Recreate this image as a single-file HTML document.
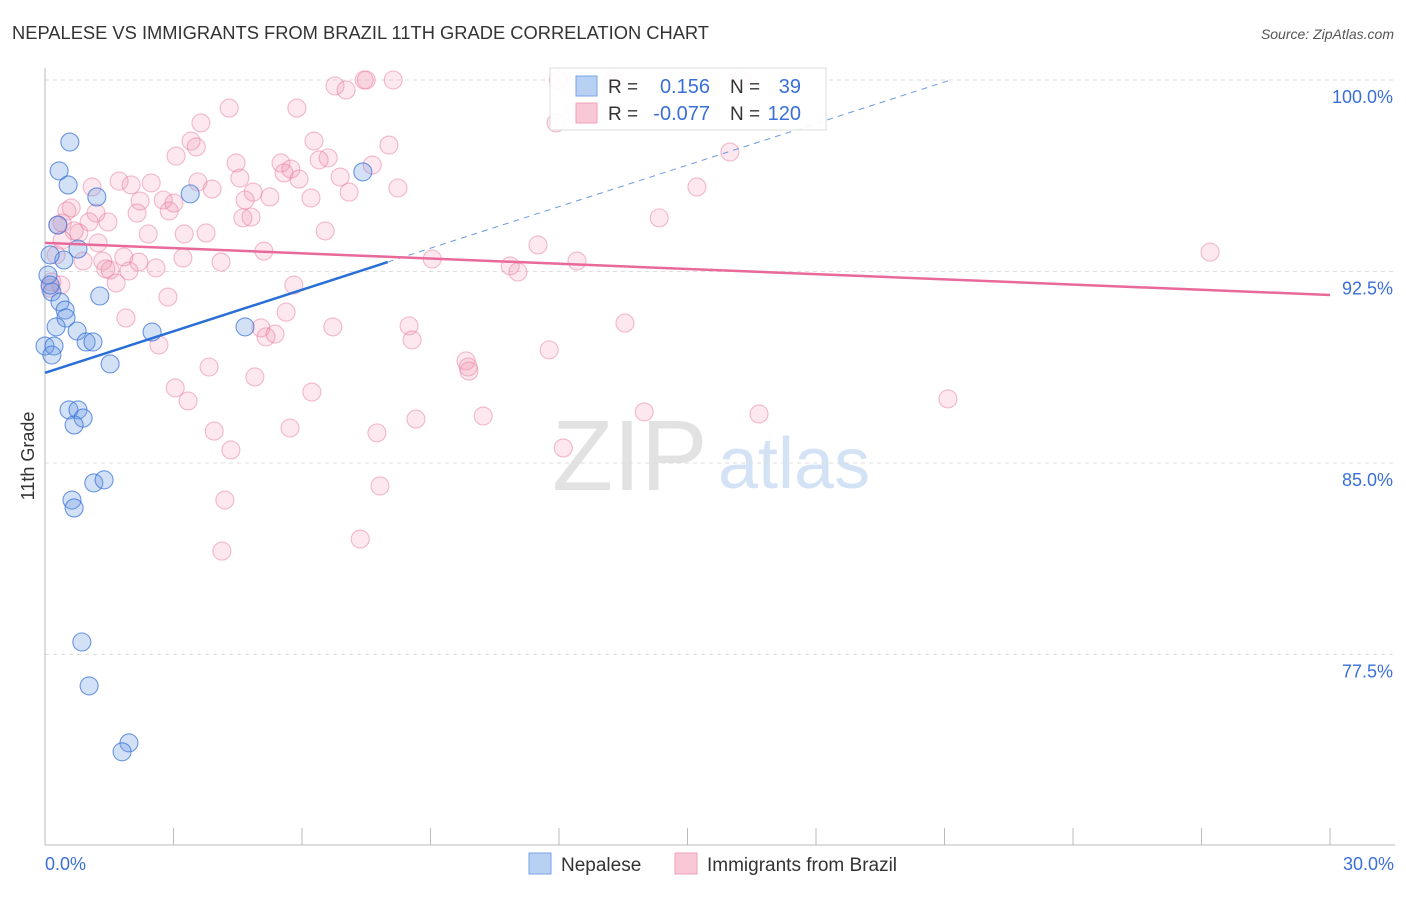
<!DOCTYPE html>
<html><head><meta charset="utf-8"><style>
body{margin:0;background:#fff;font-family:"Liberation Sans",sans-serif}
svg text{font-family:"Liberation Sans",sans-serif}
</style></head><body>
<svg id="c" width="1406" height="892">
<text x="12" y="39" font-size="18" fill="#333" textLength="697" lengthAdjust="spacingAndGlyphs">NEPALESE VS IMMIGRANTS FROM BRAZIL 11TH GRADE CORRELATION CHART</text>
<text x="1394" y="39" font-size="14" fill="#555" font-style="italic" text-anchor="end">Source: ZipAtlas.com</text>
<g>
<text x="552" y="490" font-size="100" fill="#e2e2e2" font-family="Liberation Serif,serif">ZIP</text>
<text x="718" y="488" font-size="72" fill="#d3e3f5">atlas</text>
</g>
<g id="grid"></g>
<g id="axes"></g>
<g id="pts"></g>
<g id="lines"></g>
<g>
<rect x="550" y="68" width="276" height="62" fill="#fff" fill-opacity="0.9" stroke="#ddd"/>
<rect x="576" y="76" width="21" height="20" fill="#b8d0f4" stroke="#7aa4e4"/>
<rect x="576" y="103" width="21" height="20" fill="#f9c8d6" stroke="#f0a0b8"/>
<text x="608" y="93" font-size="19" fill="#333">R =</text>
<text x="710" y="93" font-size="20" fill="#3a6fd8" text-anchor="end">0.156</text>
<text x="730" y="93" font-size="19" fill="#333">N =</text>
<text x="801" y="93" font-size="20" fill="#3a6fd8" text-anchor="end">39</text>
<text x="608" y="120" font-size="19" fill="#333">R =</text>
<text x="710" y="120" font-size="20" fill="#3a6fd8" text-anchor="end">-0.077</text>
<text x="730" y="120" font-size="19" fill="#333">N =</text>
<text x="801" y="120" font-size="20" fill="#3a6fd8" text-anchor="end">120</text>
</g>
<text x="34" y="456" font-size="18" fill="#333" transform="rotate(-90 34 456)" text-anchor="middle">11th Grade</text>
<text x="45" y="870" font-size="18" fill="#3a6fd8">0.0%</text>
<text x="1394" y="870" font-size="18" fill="#3a6fd8" text-anchor="end">30.0%</text>
<g><rect x="529" y="853" width="22" height="21" fill="#b8d0f4" stroke="#7aa4e4"/><text x="561" y="871" font-size="19" fill="#333">Nepalese</text></g>
<g><rect x="675" y="853" width="22" height="21" fill="#f9c8d6" stroke="#f0a0b8"/><text x="707" y="871" font-size="19" fill="#333">Immigrants from Brazil</text></g>
</svg>
<script>
const blueX=[0.58,0.33,0.54,1.21,3.39,7.42,0.30,0.44,0.77,0.12,0.07,0.16,0.35,0.47,0.49,0.26,0.75,1.28,0,0.21,0.16,0.96,1.12,1.52,2.50,4.67,0.56,0.77,0.89,0.68,1.14,1.38,0.63,0.68,0.86,1.03,1.96,1.80,0.12];
const blueY=[97.57,96.44,95.89,95.42,95.54,96.40,94.32,92.95,93.38,93.15,92.36,91.70,91.31,90.99,90.68,90.33,90.17,91.54,89.58,89.58,89.23,89.74,89.74,88.88,90.13,90.33,87.08,87.08,86.76,86.49,84.22,84.34,83.55,83.24,77.99,76.27,74.04,73.69,91.97];
const pinkX=[6.77,7.03,7.45,7.50,8.13,11.98,13.26,16.23,4.30,5.88,3.64,11.93,6.28,3.41,3.53,8.03,15.99,3.06,4.46,5.51,6.61,6.40,7.64,5.74,6.89,5.58,5.93,4.55,3.57,3.90,1.73,2.01,2.48,1.10,4.86,7.10,8.24,15.22,4.67,5.25,2.76,3.01,2.22,0.51,0.61,1.19,2.15,2.90,4.62,4.81,6.21,14.34,0.30,0.40,1.03,1.47,0.68,2.41,3.25,3.76,6.54,11.51,1.24,0.40,0.79,5.11,27.20,1.84,1.35,1.52,0.89,2.19,2.59,3.22,4.11,9.04,10.86,12.42,11.04,1.42,1.96,1.66,0.16,0.12,5.81,2.87,5.63,1.89,5.04,5.16,5.37,6.72,8.50,8.57,13.54,2.66,11.77,9.83,9.90,9.88,3.83,4.90,3.04,6.23,3.34,21.08,13.99,16.67,10.23,8.66,5.72,3.95,7.75,4.34,12.10,7.82,4.20,4.13,7.36,0.26,0.37];
const pinkY=[99.77,99.61,100,100,100,100,100,100,98.90,98.90,98.32,98.32,97.61,97.61,97.38,97.45,97.18,97.02,96.75,96.75,96.95,96.87,96.67,96.51,96.20,96.36,96.12,96.16,96.01,95.73,96.04,95.89,95.97,95.81,95.61,95.61,95.77,95.81,95.30,95.42,95.30,95.18,95.26,94.87,94.99,94.79,94.79,94.87,94.60,94.63,95.38,94.60,94.32,94.40,94.44,94.44,94.09,93.97,93.97,94.01,94.09,93.54,93.62,93.73,94.01,93.30,93.26,93.07,92.91,92.56,92.91,92.87,92.64,93.03,92.87,92.99,92.72,92.91,92.48,92.60,92.52,92.05,92.09,91.85,91.97,91.50,90.91,90.68,90.29,89.94,90.05,90.33,90.37,89.82,90.48,89.62,89.43,89.00,88.60,88.76,88.76,88.37,87.94,87.78,87.43,87.51,87.00,86.92,86.84,86.72,86.37,86.25,86.18,85.51,85.59,84.10,83.55,81.55,82.02,93.15,91.97];
const yTicks=[100,92.5,85,77.5];
const yTickLabels=["100.0%","92.5%","85.0%","77.5%"];
const blueTrend=[88.53,0.5425];
const pinkTrend=[93.62,-0.068];
const NS="http://www.w3.org/2000/svg";
const sx=v=>45+v/30*1285;
const sy=v=>80+(100-v)/7.5*191.5;
function mk(tag,attrs,parent){const e=document.createElementNS(NS,tag);for(const k in attrs)e.setAttribute(k,attrs[k]);parent.appendChild(e);return e;}
const grid=document.getElementById('grid'),axes=document.getElementById('axes'),pts=document.getElementById('pts'),lines=document.getElementById('lines');
yTicks.forEach((t,i)=>{
 const l=mk('line',{x1:45,x2:1393,y1:sy(t),y2:sy(t),stroke:'#ddd','stroke-dasharray':'4 4'},grid);
 
 
 const tx=mk('text',{x:1393,y:sy(t)+23,'font-size':18,fill:'#3a6fd8','text-anchor':'end'},grid);
 tx.textContent=yTickLabels[i];
 
 
});
mk('line',{x1:45,x2:45,y1:68,y2:845,stroke:'#bbb'},axes);
mk('line',{x1:45,x2:1395,y1:845,y2:845,stroke:'#bbb'},axes);
for(let i=0;i<=10;i++){const t=mk('line',{x1:sx(i*3),x2:sx(i*3),y1:828,y2:845,stroke:'#bbb'},axes);
 
 }
pinkX.forEach((x,i)=>{const c=mk('circle',{cx:sx(x),cy:sy(pinkY[i]),r:9,fill:'rgba(240,140,170,0.2)',stroke:'rgba(232,120,160,0.5)','stroke-width':1.1},pts);
 
 });
blueX.forEach((x,i)=>{const c=mk('circle',{cx:sx(x),cy:sy(blueY[i]),r:9,fill:'rgba(110,155,230,0.3)',stroke:'rgba(50,110,215,0.7)','stroke-width':1.1},pts);
 
 });
const bf=x=>blueTrend[0]+blueTrend[1]*x;
const bEnd=(100-blueTrend[0])/blueTrend[1];
const b1=mk('line',{x1:sx(0),y1:sy(bf(0)),x2:sx(8),y2:sy(bf(8)),stroke:'#2a6fd6','stroke-width':2.5},lines);


const b2=mk('line',{x1:sx(8),y1:sy(bf(8)),x2:sx(bEnd),y2:sy(100),stroke:'#6a9be0','stroke-width':1,'stroke-dasharray':'6 5'},lines);


const pf=x=>pinkTrend[0]+pinkTrend[1]*x;
const p1=mk('line',{x1:sx(0),y1:sy(pf(0)),x2:sx(30),y2:sy(pf(30)),stroke:'#e8699a','stroke-width':2.5},lines);


</script>
</body></html>
